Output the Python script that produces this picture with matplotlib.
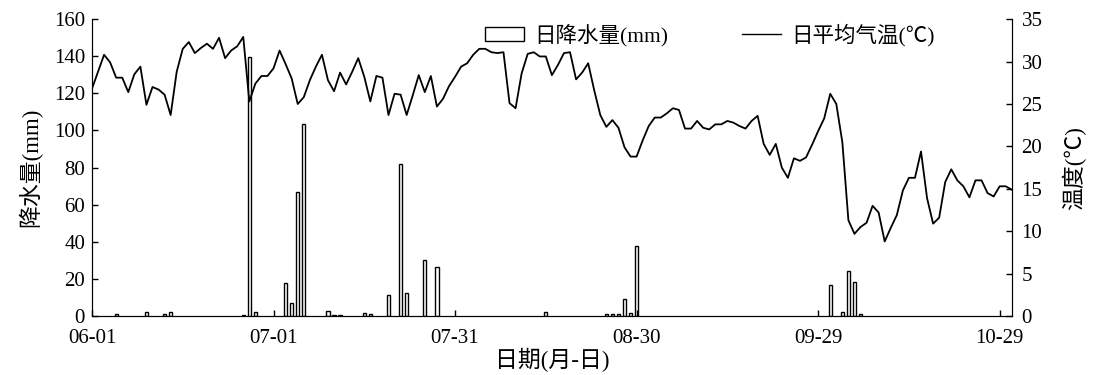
# 日降水量与日平均气温 (06-01 ~ 10-31)

import matplotlib
matplotlib.use('Agg')
import matplotlib.pyplot as plt
from matplotlib.patches import Patch
from matplotlib.lines import Line2D

matplotlib.rcParams['font.family'] = ['Liberation Serif', 'Noto Sans CJK SC']
matplotlib.rcParams['font.size'] = 15
matplotlib.rcParams['axes.unicode_minus'] = False

# 日平均气温, 06-01 起逐日 (℃)
temp = [26.8, 28.8, 30.8, 29.9, 28.1, 28.1, 26.4, 28.5, 29.4, 24.9,
        27.0, 26.7, 26.1, 23.7, 28.8, 31.5, 32.3, 31.0, 31.6, 32.1,
        31.5, 32.8, 30.4, 31.3, 31.8, 32.9, 25.3, 27.4, 28.3, 28.3,
        29.2, 31.3, 29.7, 28.0, 25.0, 25.8, 27.8, 29.4, 30.8, 27.8,
        26.5, 28.7, 27.3, 28.8, 30.4, 28.2, 25.3, 28.3, 28.1, 23.7,
        26.2, 26.1, 23.7, 26.0, 28.4, 26.4, 28.3, 24.7, 25.6, 27.1,
        28.2, 29.4, 29.8, 30.8, 31.5, 31.5, 31.1, 31.0, 31.1, 25.1,
        24.5, 28.6, 30.9, 31.1, 30.6, 30.6, 28.4, 29.6, 31.0, 31.1,
        27.9, 28.7, 29.8, 26.6, 23.7, 22.3, 23.1, 22.2, 19.9, 18.8,
        18.8, 20.7, 22.4, 23.4, 23.4, 23.9, 24.5, 24.3, 22.1, 22.1,
        23.0, 22.2, 22.0, 22.6, 22.6, 23.0, 22.8, 22.4, 22.1, 23.0,
        23.6, 20.3, 19.0, 20.3, 17.5, 16.3, 18.6, 18.3, 18.7, 20.2,
        21.8, 23.3, 26.2, 25.0, 20.5, 11.3, 9.7, 10.5, 11.0, 13.0,
        12.2, 8.8, 10.4, 11.9, 14.8, 16.3, 16.3, 19.4, 13.9, 10.9,
        11.6, 15.8, 17.3, 16.0, 15.3, 14.0, 16.0, 16.0, 14.5, 14.1,
        15.3, 15.3, 14.9]
days = list(range(len(temp)))

# 日降水量 (有降水的日子, 距 06-01 天数)
rain_day = [4, 9, 12, 13, 25, 26, 27, 32, 33, 34, 35, 39, 40, 41, 45, 46,
            49, 51, 52, 55, 57, 75, 85, 86, 87, 88, 89, 90, 122, 124, 125,
            126, 127]
rain_mm = [0.9, 2.0, 1.2, 2.3, 0.8, 139.4, 2.3, 18.0, 7.2, 66.6, 103.4, 3.0,
           0.7, 0.7, 1.8, 0.9, 11.5, 81.9, 12.4, 30.5, 26.2, 2.2, 1.4, 0.9,
           1.1, 9.0, 1.8, 37.7, 16.5, 2.0, 24.4, 18.3, 0.9]

tick_pos = [0, 30, 60, 90, 120, 150]
tick_lab = ['06-01', '07-01', '07-31', '08-30', '09-29', '10-29']

fig = plt.figure(figsize=(10.95, 3.75), dpi=100)
ax = fig.add_axes([0.084, 0.157, 0.840, 0.792])
ax.bar(rain_day, rain_mm, width=0.55, facecolor='white', edgecolor='black', linewidth=1.0)
ax.set_xlim(0, 152)
ax.set_ylim(0, 160)
ax.set_yticks(range(0, 161, 20))
ax.set_xticks(tick_pos)
ax.set_xticklabels(tick_lab)
ax.set_ylabel('降水量(mm)', fontsize=16.5, labelpad=8)
ax.set_xlabel('日期(月-日)', fontsize=16.5, labelpad=0)
ax.tick_params(direction='in', length=4, width=1)
ax.tick_params(axis='x', pad=9)
ax.tick_params(axis='y', pad=5)
ax.spines['top'].set_visible(False)

ax2 = ax.twinx()
ax2.plot(days, temp, color='black', linewidth=1.3)
ax2.set_ylim(0, 35)
ax2.set_yticks(range(0, 36, 5))
ax2.set_ylabel('温度(℃)', fontsize=16.5, labelpad=14)
ax2.tick_params(direction='in', length=4, width=1, pad=7)
ax2.spines['top'].set_visible(False)

handles = [Patch(facecolor='white', edgecolor='black', linewidth=1.0),
           Line2D([0], [0], color='black', linewidth=1.0)]
ax.legend(handles, ['日降水量(mm)', '日平均气温(℃)'], ncol=2, frameon=False,
          loc='upper center', bbox_to_anchor=(0.672, 1.05), columnspacing=3.4,
          handlelength=1.8, handleheight=0.6, handletextpad=0.5, fontsize=15.5)

plt.savefig('out.png', dpi=100)
